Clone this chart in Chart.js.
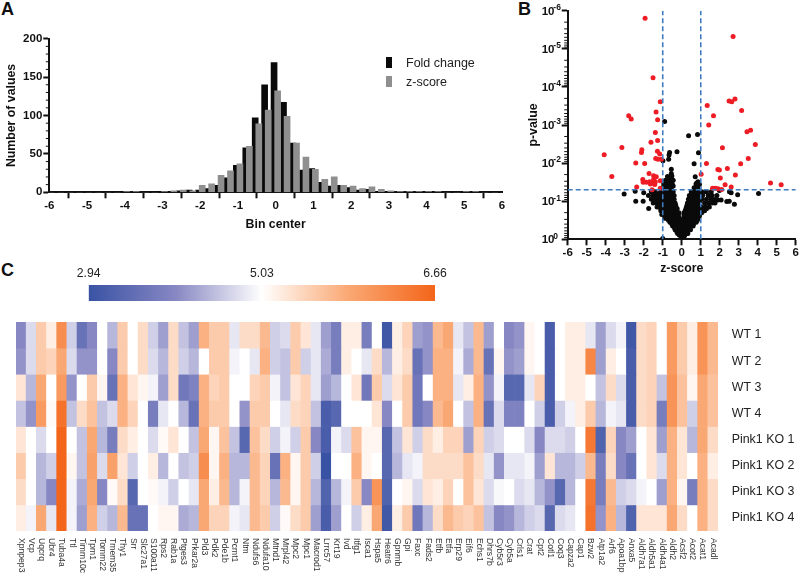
<!DOCTYPE html>
<html>
<head>
<meta charset="utf-8">
<script src="https://cdn.jsdelivr.net/npm/chart.js@4"></script>
<style>
  html, body { margin: 0; padding: 0; background: #fff; }
  body { position: relative; width: 800px; height: 573px; overflow: hidden; font-family: "Liberation Sans", Arial, sans-serif; }
  canvas { position: absolute; }
  .panel { position: absolute; font-weight: bold; font-size: 18px; line-height: 18px; color: #111; }
  .legend { position: absolute; left: 386px; font-size: 12.5px; line-height: 14px; color: #222; }
  .legend i { position: absolute; left: 0; top: 1px; width: 6px; height: 11px; }
  .legend span { position: absolute; left: 20px; top: 0; white-space: nowrap; }
</style>
</head>
<body>
<div class="panel" style="left:1px;top:0">A</div>
<div class="panel" style="left:518px;top:0">B</div>
<div class="panel" style="left:1px;top:261px">C</div>
<canvas id="hist" width="510" height="240" style="left:0;top:0"></canvas>
<canvas id="volcano" width="300" height="280" style="left:500px;top:0"></canvas>
<canvas id="colorbar" width="420" height="39" style="left:60px;top:262px"></canvas>
<canvas id="heat" width="800" height="263" style="left:0;top:310px"></canvas>
<script>
// A: histogram
const binCenters = [-6, -5.75, -5.5, -5.25, -5, -4.75, -4.5, -4.25, -4, -3.75, -3.5, -3.25, -3, -2.75, -2.5, -2.25, -2, -1.75, -1.5, -1.25, -1, -0.75, -0.5, -0.25, 0, 0.25, 0.5, 0.75, 1, 1.25, 1.5, 1.75, 2, 2.25, 2.5, 2.75, 3, 3.25, 3.5, 3.75, 4, 4.25, 4.5, 4.75, 5, 5.25, 5.5, 5.75, 6]
const foldChange = [0, 0, 0, 0, 0, 0, 0, 0, 1, 0, 0, 0, 1, 1, 2, 3, 3, 5, 9, 19, 35, 58, 97, 140, 169, 117, 64, 29, 31, 13, 8, 9, 6, 3, 4, 1, 1, 0, 0, 0, 1, 1, 0, 0, 0, 0, 0, 0, 0]
const zScore = [0, 0, 0, 0, 0, 0, 0, 0, 1, 1, 0, 0, 1, 2, 3, 2, 9, 11, 22, 28, 37, 60, 89, 107, 132, 99, 64, 46, 30, 17, 20, 9, 8, 5, 7, 4, 2, 1, 1, 1, 1, 1, 0, 0, 1, 1, 0, 0, 0]
const histMinorTicks = [10, 20, 30, 40, 60, 70, 80, 90, 110, 120, 130, 140, 160, 170, 180, 190]
const histLegend = ['Fold change', 'z-score']

// B: volcano, z-score and -log10(p)
const redZ = [-1.93, 2.7, -1.51, -1.13, 2.49, 2.63, 2.8, 1.34, 3.15, -1.35, -2.79, -2.66, -1.27, 1.67, 1.42, 3.43, 3.62, -1.39, -1.27, -1.62, 3.87, -3.15, 2.14, -2.1, -2.12, -1.28, -1.16, -4.08, 3.5, -1.37, -1.25, -1.07, -2.42, -1.95, 1.3, 3.1, 2.4, 1.9, 1.98, 1.02, 2.82, -3.68, -1.72, -1.48, 2.03, -2.05, -2.03, -1.69, -1.48, -1.39, -1.55, -1.42, -1.65, -1.34, -1.13, 4.67, 5.23, 2.28, 2.6, -2.37, 1.62, 1.77, 1.91, 2.1, -1.56, -1.13, -1.86]
const redLogP = [5.8, 5.32, 4.24, 3.61, 3.63, 3.61, 3.68, 3.51, 3.38, 3.34, 3.24, 3.16, 3.14, 3.24, 3, 2.82, 2.86, 2.8, 2.59, 2.55, 2.49, 2.41, 2.4, 2.35, 2.28, 2.31, 2.24, 2.22, 2.12, 2.12, 2.1, 2.1, 2, 1.99, 1.99, 1.98, 1.86, 1.83, 1.82, 1.71, 1.69, 1.65, 1.73, 1.67, 1.61, 1.57, 1.5, 1.51, 1.57, 1.51, 1.48, 1.44, 1.45, 1.64, 1.54, 1.48, 1.43, 1.43, 1.37, 1.37, 1.34, 1.34, 1.33, 1.31, 1.3, 1.34, 1.5]
const blackZ = [-0.9, 0.36, 0.83, 0.88, -0.25, -0.64, -0.67, -0.69, -0.99, 0.65, -0.55, -0.55, -0.52, 0.71, 0.85, 0.78, 0.93, -3.03, -2.45, -2.42, -2, -2.03, -1.74, 4.04, 2.94, 2.77, 2.51, 2.6, 1.98, 2.37, 2.5, 2.07, 1.9, 1.6, 1.4, 1.25,
  -0.75, -0.55, -0.85, -0.65, -0.55, -0.45, -0.95, -0.8, -0.65, -0.5, -1, -0.85, -0.7, -0.55, -0.6, -0.45, 0.65, 0.75, 0.9, 0.75, 0.9,
  -1.6, -1.4, -1.1, -0.9, -0.75, -0.6, -0.45, 0.5, 0.7, 0.9, 1.05, 1.3, 1.55,
  -1.75, -1.5, -1.3, -1.1, -0.9, -0.7, -0.55, -0.4, 0.4, 0.65, 0.85, 1.1, 1.4, 1.6, 1.85,
  -1.6, -1.4, -1.2, -1, -0.85, -0.7, -0.55, -0.4, 0.35, 0.6, 0.9, 1.05, 1.3, 1.55, 1.8,
  -1.5, -1.3, -1.1, -0.95, -0.8, -0.65, -0.5, -0.35, 0.3, 0.5, 0.7, 0.85, 1.2, 1.4, 1.6, 1.75,
  -1.3, -1.15, -1, -0.85, -0.7, -0.55, -0.42, -0.3, 0.25, 0.45, 0.6, 0.75, 1.05, 1.25, 1.45,
  -1.1, -0.95, -0.8, -0.65, -0.5, -0.4, -0.28, 0.18, 0.3, 0.42, 0.55, 0.75, 1, 1.2,
  -1.05, -0.92, -0.8, -0.65, -0.5, -0.38, -0.26, -0.18, 0.12, 0.22, 0.34, 0.48, 0.6, 0.8, 0.95,
  -0.9, -0.78, -0.65, -0.55, -0.45, -0.33, -0.22, -0.14, 0.1, 0.2, 0.32, 0.42, 0.55, 0.7, 0.86,
  -0.75, -0.62, -0.5, -0.4, -0.3, -0.2, -0.13, 0.1, 0.18, 0.26, 0.35, 0.5, 0.62, 0.76,
  -0.55, -0.48, -0.4, -0.3, -0.22, -0.14, 0.1, 0.16, 0.22, 0.3, 0.42, 0.5, 0.6,
  -0.42, -0.35, -0.25, -0.18, -0.1, 0.08, 0.18, 0.3, 0.4, 0.46,
  -0.3, -0.22, -0.14, -0.08, 0.08, 0.15, 0.25, 0.32,
  -0.12, -0.04, 0.04, 0.12, 0,
  -1, -0.8, -0.62, 0.55, 0.8,
  -1.2, -1.05, -0.8, -0.62, -0.48, 0.5, 0.75,
  -1.15, -0.9, -0.75, -0.6, -0.45, 0.42, 0.68, 0.95,
  -1.4, -1.2, -1.05, -0.9, -0.75, -0.6, -0.45, -0.32, 0.28, 0.5, 0.65, 0.9,
  -1.2, -1.05, -0.9, -0.75, -0.6, -0.48, -0.35, -0.24, 0.22, 0.38, 0.5, 0.68, 0.88, 1.1, 1.3,
  -1.1, -0.98, -0.86, -0.72, -0.58, -0.44, -0.32, -0.22, -0.15, 0.12, 0.2, 0.3, 0.42, 0.54, 0.68, 0.88, 1.05,
  -0.98, -0.85, -0.72, -0.6, -0.5, -0.38, -0.28, -0.18, 0.12, 0.22, 0.32, 0.44, 0.58, 0.76, 0.92,
  -0.82, -0.7, -0.56, -0.45, -0.35, -0.26, -0.18, -0.11, 0.1, 0.16, 0.24, 0.34, 0.44, 0.56, 0.68, 0.82,
  -0.62, -0.52, -0.44, -0.36, -0.27, -0.2, -0.12, 0.09, 0.16, 0.24, 0.32, 0.4, 0.52, 0.62,
  -0.48, -0.38, -0.3, -0.24, -0.16, -0.09, 0.08, 0.16, 0.24, 0.34, 0.42,
  -0.34, -0.26, -0.18, -0.1, -0.03, 0.05, 0.13, 0.22, 0.3,
  -0.2, -0.13, -0.06, 0.02, 0.08, 0.16]
const blackLogP = [3.09, 2.72, 2.75, 2.27, 2.3, 2.28, 2.21, 2.1, 2.06, 1.98, 1.84, 1.73, 1.66, 1.64, 1.51, 1.47, 1.44, 1.19, 1.26, 1, 1.22, 1, 0.81, 1.2, 1.17, 0.92, 1.25, 1.22, 1.28, 0.99, 1, 1.03, 1.03, 1.05, 1.15, 1.25,
  1.65, 1.65, 1.55, 1.55, 1.55, 1.55, 1.45, 1.45, 1.45, 1.45, 1.35, 1.35, 1.35, 1.35, 1.45, 1.4, 1.35, 1.35, 1.35, 1.45, 1.45,
  1.25, 1.25, 1.25, 1.25, 1.25, 1.25, 1.25, 1.25, 1.25, 1.25, 1.25, 1.25, 1.25,
  1.15, 1.15, 1.15, 1.15, 1.15, 1.15, 1.15, 1.15, 1.15, 1.15, 1.15, 1.15, 1.15, 1.15, 1.15,
  1.05, 1.05, 1.05, 1.05, 1.05, 1.05, 1.05, 1.05, 1.05, 1.05, 1.05, 1.05, 1.05, 1.05, 1.05,
  0.95, 0.95, 0.95, 0.95, 0.95, 0.95, 0.95, 0.95, 0.95, 0.95, 0.95, 0.95, 0.95, 0.95, 0.95, 0.95,
  0.85, 0.85, 0.85, 0.85, 0.85, 0.85, 0.85, 0.85, 0.85, 0.85, 0.85, 0.85, 0.85, 0.85, 0.85,
  0.75, 0.75, 0.75, 0.75, 0.75, 0.75, 0.75, 0.75, 0.75, 0.75, 0.75, 0.75, 0.75, 0.75,
  0.65, 0.65, 0.65, 0.65, 0.65, 0.65, 0.65, 0.65, 0.65, 0.65, 0.65, 0.65, 0.65, 0.65, 0.65,
  0.55, 0.55, 0.55, 0.55, 0.55, 0.55, 0.55, 0.55, 0.55, 0.55, 0.55, 0.55, 0.55, 0.55, 0.55, 0.55,
  0.45, 0.45, 0.45, 0.45, 0.45, 0.45, 0.45, 0.45, 0.45, 0.45, 0.45, 0.45, 0.45, 0.45,
  0.35, 0.35, 0.35, 0.35, 0.35, 0.35, 0.35, 0.35, 0.35, 0.35, 0.35, 0.35, 0.35,
  0.25, 0.25, 0.25, 0.25, 0.25, 0.25, 0.25, 0.25, 0.25, 0.25,
  0.15, 0.15, 0.15, 0.15, 0.15, 0.15, 0.15, 0.15,
  0.07, 0.07, 0.07, 0.07, 0.02,
  1.2, 1.2, 1.2, 1.2, 1.2,
  1.1, 1.1, 1.1, 1.1, 1.1, 1.1, 1.1,
  1, 1, 1, 1, 1, 1, 1, 1,
  0.9, 0.9, 0.9, 0.9, 0.9, 0.9, 0.9, 0.9, 0.9, 0.9, 0.9, 0.9,
  0.8, 0.8, 0.8, 0.8, 0.8, 0.8, 0.8, 0.8, 0.8, 0.8, 0.8, 0.8, 0.8, 0.8, 0.8,
  0.7, 0.7, 0.7, 0.7, 0.7, 0.7, 0.7, 0.7, 0.7, 0.7, 0.7, 0.7, 0.7, 0.7, 0.7, 0.7, 0.7,
  0.6, 0.6, 0.6, 0.6, 0.6, 0.6, 0.6, 0.6, 0.6, 0.6, 0.6, 0.6, 0.6, 0.6, 0.6,
  0.5, 0.5, 0.5, 0.5, 0.5, 0.5, 0.5, 0.5, 0.5, 0.5, 0.5, 0.5, 0.5, 0.5, 0.5, 0.5,
  0.4, 0.4, 0.4, 0.4, 0.4, 0.4, 0.4, 0.4, 0.4, 0.4, 0.4, 0.4, 0.4, 0.4,
  0.3, 0.3, 0.3, 0.3, 0.3, 0.3, 0.3, 0.3, 0.3, 0.3, 0.3,
  0.2, 0.2, 0.2, 0.2, 0.2, 0.2, 0.2, 0.2, 0.2,
  0.11, 0.11, 0.11, 0.11, 0.11, 0.11]
const zCutoffs = [-1, 1]
const pCutoff = 0.05
const pDecades = [1e-6, 1e-5, 1e-4, 1e-3, 1e-2, 1e-1, 1]
const pExponents = ['-6', '-5', '-4', '-3', '-2', '-1', '0']
const pMinorSteps = [2, 3, 4, 5, 6, 7, 8, 9]

// C: heatmap, shades: -10 is 2.94, 0 is 5.03, 10 is 6.66
const colorTicks = ['2.94', '5.03', '6.66']
const genes = ['Xpnpep3', 'Vcp', 'Uqcrq', 'Ubr4', 'Tuba4a', 'Ttl', 'Timm10c', 'Tpm1', 'Tomm22', 'Tmem35', 'Thy1', 'Srr', 'Slc27a1', 'S100a11', 'Rps2', 'Rab1a', 'Ptges3', 'Prkar2a', 'Pld3', 'Pdk2', 'Pde1b', 'Pcmt1', 'Ntm', 'Ndufs6', 'Ndufa10', 'Mtnd1', 'Mrpl42', 'Mpc2', 'Mpc1', 'Macrod1', 'Lrrc57', 'Krt19', 'Ivd', 'Itfg1', 'Isca1', 'Hspa5', 'Heatr6', 'Gpnmb', 'Gpi', 'Faxc', 'Fads2', 'Etfb', 'Etfa', 'Erp29', 'Eif6', 'Echs1', 'Dhrs7b', 'Cyb5r3', 'Cyb5a', 'Crls1', 'Crat', 'Cpt2', 'Cotl1', 'Coq3', 'Capza2', 'Cap1', 'Bzw2', 'Atp1a2', 'Arf6', 'Apoa1bp', 'Anxa5', 'Aldh7a1', 'Aldh5a1', 'Aldh4a1', 'Aldh2', 'Acsf2', 'Acot2', 'Acat1', 'Acadl']
const rowLabels = ['WT 1', 'WT 2', 'WT 3', 'WT 4', 'Pink1 KO 1', 'Pink1 KO 2', 'Pink1 KO 3', 'Pink1 KO 4']
const wt1 = [-5, -1.5, 3, 1, 7, -2, -7, -5, 0, -3, 3, 0, 2, -2, -4, 2, -2.5, -4, 4.5, 3, 3, -1, 2, 2, 4, -2, -1.5, 3, 1.5, -1, -4, -6, 1, 1, -6, 0, -9.5, 1, 2.5, -4, -4.5, 4, 5, -1, -2.5, 4, -4, 0, -5, -4.5, 0.5, 0, -9, 0, 1, 1, -1, -4, -1.5, -0.5, -9.5, 2, 2.5, 0, 6, 3, 1, 6.5, 4]
const wt2 = [-4.5, -1.5, 3, 2.5, 5, -1.5, -4.5, -4.5, 0, -5, 3, 0, 2, -1.5, -3, 2, -2, -3, 0, 3, 3, -0.5, 0, -1, 4.5, -2, -2.5, 3, -2, -1, -3.5, -6, 1, 0, -1, 2, -3, 1, 2, -7, -4.5, 4.5, 4.5, -0.5, -3.5, 4, -7, 0.5, -4.5, -4, 0.5, 0, -9, 0, 1, 1, 7.5, -4, 1, 0, -9, 2, 2.5, 0, 6, 3, 1, 6.5, 4]
const wt3 = [1.5, -3, 5, 0, 6, -4.5, 0, 3, 0.5, -7, 4.5, 1.5, 0.5, -0.5, -4, 2, -6.5, -5.5, 4.5, 2.5, 3, 0, 0, 2.5, 3, -0.5, -2.5, 1.5, 2.5, -1, -4, -3, 0, 1.5, -6.5, 3, -1.5, 1.5, 3, -6.5, 0, 4.5, 4.5, -1, 1, 4.5, -4.5, -0.5, -8, -8, -1, 2.5, -9, 0, 1, 1, 0, -2.5, 2, -1.5, -9, 2, 2.5, -2.5, 6.5, 3.5, 0.5, 5, 3.5]
const wt4 = [-2.5, -4.5, 6, 0.3, 9, -2.5, 2, 3.5, -2.5, -1.5, 4.5, 2.5, 0, -6, -1, 0, -3, -7, 4.5, 3, 3, 0, -4.5, 3, 3, 0, -1, 2, 2.5, -2.5, -9, -8, 0, 0, 0, 1.5, -5, 0, 3, -6.5, -5, 4, 5, 0, -2.5, 4.5, -7, -1.5, -5.5, -5.5, 0, -2, -9, -2, -0.5, 1, 3, -3, -0.5, -1, -9, 2, 2.5, -6, 6.5, 3.5, -2, 5, 3.5]
const ko1 = [1.5, 0, -1.5, 0, 10, 0, -2.5, 5, -3, -6, 2, 1, 0, -1.5, 0.3, 1.5, 0, -2.5, 5, 0.5, 3.5, -2.5, -8, 3.5, 2, -2, -0.5, -2, 3, -5, -9, -0.5, -1.5, 3.5, 0.5, 0.5, -8, -2.5, 1.5, -2, 2, 1, 2.5, 2.5, -4, 2.5, -2, -1.5, 0, 0, -1.5, -5, -1.5, -1.5, -2, 0, 8.5, -8.5, 2.5, -5, -4, 0, 1.5, -4, 4.5, 1.5, -3, 5, 2]
const ko2 = [3, 0, -3, -2, 10, 0.5, -2.5, 5.5, -1.5, 5.5, 1.5, -2, 0, 1, -3, 0, -2.5, -2, 7, 0.5, 4.5, -3, -3, 4, 2.5, -7, 4.5, 0.5, 3, -2, -10, 0, 0, 4.5, 0.5, 0, -8, -3, -1, -0.5, 2, 2, 2, 2, 3.5, 2, -1, -4.5, -1, -1, -0.5, -4, 1.5, -3, -3, -2, 4, -6, 2, -5, -7, 0, 1.5, -1.5, 4.5, 1.5, 0, 4.5, 1]
const ko3 = [2, 0, -3, -5, 10, -0.5, -3.5, 5, -5, 0.3, 2, -8, 0, 0.3, -0.5, -2, 0, -1, 5, 1, 4, -3, -0.5, 4, 2.5, -3, 4, 0.5, 3, -3, -8.5, -3, -0.5, 3, -5, 6.5, -8.5, 0, 0.5, -1.5, 1.5, 1, 2.5, 0, 3.5, 1.5, -1.5, -0.3, 0, -1.5, -1, -3, -4.5, -8, -3, 0, 8.5, -6, 4, -2, -1.5, -0.5, 0, -4, 4.5, 0.5, -6, 4.5, 2]
const ko4 = [1, -0.5, 5, -1, 10, -0.5, -4, 4.5, -2, -3, 4, -7, -7, 0, 0.5, 0.5, -3.5, -3, 5, 2.5, 2.5, -0.5, -1, 4, 3, -2, 0.3, 2, 3, -4, -9, -4, 0, -2, 1, 5, -9.5, 1, 3, -6.5, -3, 2, 4, 3, 2.5, 3.5, -2.5, -5, -4.5, -3, -2, -1.5, -8, -1.5, -1, 0, 9, -4.5, 4.5, -3, -8.5, 1.5, 1.5, 1.5, 5, 2, 0, 4.5, 2]
const heatRows = [wt1, wt2, wt3, wt4, ko1, ko2, ko3, ko4]

const FONT = '"Liberation Sans", Arial, sans-serif'
const INK = '#111'
const shadeStops = [[-10, [57, 83, 164]], [-5, [135, 135, 195]], [0, [255, 255, 255]], [5, [250, 168, 115]], [10, [243, 101, 26]]]

function shadeColour(v) {
  for (let i = 1; i < shadeStops.length; i++) {
    const [a, ca] = shadeStops[i - 1]
    const [b, cb] = shadeStops[i]
    if (v <= b) {
      const t = (v - a) / (b - a)
      return `rgb(${ca.map((c, k) => Math.round(c + (cb[k] - c) * t)).join(',')})`
    }
  }
  return 'rgb(243,101,26)'
}

// short ticks between the labelled ones
const minorTicks = {
  id: 'minorTicks',
  afterDraw(chart, args, opts) {
    if (!opts.values) return
    const { ctx, scales: { y } } = chart
    ctx.save()
    ctx.strokeStyle = INK
    ctx.lineWidth = 1
    opts.values.forEach((v) => {
      const py = y.getPixelForValue(v)
      ctx.beginPath()
      ctx.moveTo(y.right - 3.5, py)
      ctx.lineTo(y.right, py)
      ctx.stroke()
    })
    ctx.restore()
  },
}

// 10 with a raised exponent on the volcano y axis
const decadeLabels = {
  id: 'decadeLabels',
  afterDraw(chart) {
    const { ctx, scales: { y } } = chart
    ctx.save()
    ctx.fillStyle = INK
    ctx.textAlign = 'left'
    ctx.textBaseline = 'middle'
    pDecades.forEach((d, i) => {
      const py = y.getPixelForValue(d)
      ctx.font = `bold 11.5px ${FONT}`
      ctx.fillText('10', y.right - 26, py + 1)
      ctx.font = `bold 8.5px ${FONT}`
      ctx.fillText(pExponents[i], y.right - 14.4, py - 3)
    })
    ctx.restore()
  },
}

// gene names hang below the heatmap, reading downwards
const geneLabels = {
  id: 'geneLabels',
  afterDraw(chart) {
    const { ctx, scales: { x } } = chart
    ctx.save()
    ctx.fillStyle = '#333'
    ctx.font = `8.6px ${FONT}`
    ctx.textAlign = 'left'
    ctx.textBaseline = 'middle'
    genes.forEach((g, i) => {
      ctx.save()
      ctx.translate(x.getPixelForValue(i), x.top + 7)
      ctx.rotate(Math.PI / 2)
      ctx.fillText(g, 0, 0)
      ctx.restore()
    })
    ctx.restore()
  },
}

function axisStyle(size) {
  return {
    border: { display: true, width: 2, color: INK },
    grid: { drawOnChartArea: false, tickLength: 6, tickWidth: 2, tickColor: INK },
    ticks: { color: INK, font: { family: FONT, size: size, weight: 'bold' }, padding: 1, maxRotation: 0, autoSkip: false },
  }
}

function axisTitle(text, padding) {
  return { display: true, text: text, color: INK, font: { family: FONT, size: 12.3, weight: 'bold' }, padding: padding }
}

new Chart(document.getElementById('hist'), {
  type: 'bar',
  data: {
    datasets: [
      { label: histLegend[0], data: binCenters.map((c, i) => ({ x: c - 0.042, y: foldChange[i] })), backgroundColor: '#0a0a0a', order: 2 },
      { label: histLegend[1], data: binCenters.map((c, i) => ({ x: c + 0.053, y: zScore[i] })), backgroundColor: '#8f8f8f', order: 1 },
    ],
  },
  plugins: [minorTicks],
  options: {
    responsive: false,
    animation: false,
    layout: { padding: { top: 38.7, right: 8 } },
    datasets: { bar: { grouped: false, barThickness: 6 } },
    plugins: { legend: { display: false }, tooltip: { enabled: false }, minorTicks: { values: histMinorTicks } },
    scales: {
      x: {
        type: 'linear', min: -6, max: 6, offset: false,
        ...axisStyle(11.5),
        ticks: { ...axisStyle(11.5).ticks, stepSize: 1 },
        title: axisTitle('Bin center', { top: 0, bottom: 8 }),
        afterFit(s) { s.height = 47.7 },
      },
      y: {
        min: 0, max: 200,
        ...axisStyle(11.5),
        ticks: { ...axisStyle(11.5).ticks, stepSize: 50 },
        title: axisTitle('Number of values', { top: 4.6, bottom: 0 }),
        afterFit(s) { s.width = 49.3 },
      },
    },
  },
})

// legend for A
histLegend.forEach((name, i) => {
  const row = document.createElement('div')
  row.className = 'legend'
  row.style.top = `${56 + i * 19}px`
  row.innerHTML = `<i style="background:${i ? '#8f8f8f' : '#0a0a0a'}"></i><span>${name}</span>`
  document.body.appendChild(row)
})

function zLine(z) {
  return { data: [{ x: z, y: 1 }, { x: z, y: 1e-6 }], type: 'line', borderColor: '#3f7cc0', borderWidth: 1.6, borderDash: [5, 3], pointRadius: 0 }
}

const pMinor = pDecades.slice(0, -1).flatMap((d) => pMinorSteps.map((s) => d * s))

new Chart(document.getElementById('volcano'), {
  type: 'scatter',
  data: {
    datasets: [
      zLine(zCutoffs[0]),
      zLine(zCutoffs[1]),
      { data: [{ x: -6, y: pCutoff }, { x: 6, y: pCutoff }], type: 'line', borderColor: '#3f7cc0', borderWidth: 1.6, borderDash: [5, 3], pointRadius: 0 },
      { data: redZ.map((z, i) => ({ x: z, y: 10 ** -redLogP[i] })), backgroundColor: '#ee1c25', pointRadius: 2.5, pointBorderWidth: 0 },
      { data: blackZ.map((z, i) => ({ x: z, y: 10 ** -blackLogP[i] })), backgroundColor: '#0a0a0a', pointRadius: 2.5, pointBorderWidth: 0 },
    ],
  },
  plugins: [minorTicks, decadeLabels],
  options: {
    responsive: false,
    animation: false,
    layout: { padding: { top: 10.7, right: 3.3 } },
    plugins: { legend: { display: false }, tooltip: { enabled: false }, minorTicks: { values: pMinor } },
    scales: {
      x: {
        type: 'linear', min: -6, max: 6,
        ...axisStyle(11.5),
        ticks: { ...axisStyle(11.5).ticks, stepSize: 1 },
        title: axisTitle('z-score', { top: 0, bottom: 4.5 }),
        afterFit(s) { s.height = 40.7 },
      },
      y: {
        type: 'logarithmic', min: 1e-6, max: 1, reverse: true,
        ...axisStyle(11.5),
        ticks: { display: false },
        afterBuildTicks(s) { s.ticks = pDecades.map((v) => ({ value: v, major: true })) },
        title: axisTitle('p-value', { top: 26.6, bottom: 0 }),
        afterFit(s) { s.width = 67.7 },
      },
    },
  },
})

new Chart(document.getElementById('colorbar'), {
  type: 'bar',
  data: {
    labels: ['scale'],
    datasets: [{
      data: [[0, colorTicks.length - 1]],
      backgroundColor(c) {
        const area = c.chart.chartArea
        if (!area) return '#fff'
        const g = c.chart.ctx.createLinearGradient(area.left, 0, area.right, 0)
        shadeStops.forEach(([v]) => g.addColorStop((v + 10) / 20, shadeColour(v)))
        return g
      },
      barPercentage: 1,
      categoryPercentage: 1,
    }],
  },
  options: {
    indexAxis: 'y',
    responsive: false,
    animation: false,
    layout: { padding: { left: 28.7, right: 45 } },
    plugins: { legend: { display: false }, tooltip: { enabled: false } },
    scales: {
      x: {
        type: 'linear', position: 'top', min: 0, max: colorTicks.length - 1,
        border: { display: false },
        grid: { display: false, drawTicks: false },
        ticks: { stepSize: 1, color: '#222', padding: 4, font: { family: FONT, size: 12.2 }, callback: (v) => colorTicks[v] },
        afterFit(s) { s.height = 23 },
      },
      y: { display: false },
    },
  },
})

new Chart(document.getElementById('heat'), {
  type: 'bar',
  data: {
    labels: genes,
    datasets: heatRows.map((row, r) => ({
      label: rowLabels[r],
      data: row.map(() => 1),
      backgroundColor: row.map(shadeColour),
      barPercentage: 1,
      categoryPercentage: 1,
    })),
  },
  plugins: [geneLabels],
  options: {
    responsive: false,
    animation: false,
    layout: { padding: { top: 12, left: 16 } },
    plugins: { legend: { display: false }, tooltip: { enabled: false } },
    scales: {
      x: {
        stacked: true,
        border: { display: false },
        grid: { display: false },
        ticks: { display: false },
        afterFit(s) { s.height = 42 },
      },
      y: {
        stacked: true, position: 'right', min: 0, max: rowLabels.length, reverse: true,
        border: { display: false },
        grid: { drawOnChartArea: false, tickLength: 13.7, tickColor: 'transparent' },
        afterBuildTicks(s) { s.ticks = rowLabels.map((_, i) => ({ value: i + 0.5 })) },
        ticks: { color: '#222', padding: 0, font: { family: FONT, size: 12.4 }, autoSkip: false, callback: (v) => rowLabels[v - 0.5] },
        afterFit(s) { s.width = 82 },
      },
    },
  },
})
</script>
</body>
</html>
